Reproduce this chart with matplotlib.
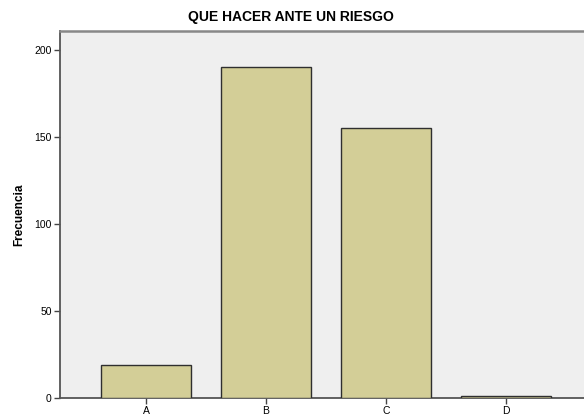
import matplotlib
matplotlib.use("Agg")
import matplotlib.pyplot as plt

categories = ["A", "B", "C", "D"]
frecuencia = [19, 190, 155, 1]
y_ticks = [0, 50, 100, 150, 200]

plt.rcParams["font.family"] = ["Liberation Sans", "DejaVu Sans"]

fig = plt.figure(figsize=(5.84, 4.18), dpi=100)
ax = fig.add_axes([60 / 584, 20 / 418, 533 / 584, 367 / 418])
ax.set_facecolor("#efefef")

x = list(range(len(categories)))
ax.bar(x, frecuencia, width=0.75, color="#d3ce97", edgecolor="#2f2f2f", linewidth=1.0, zorder=3)

ax.set_xlim(-0.717, 3.725)
ax.set_ylim(0, 210.8)
ax.set_xticks(x)
ax.set_xticklabels(categories, fontsize=7.5)
ax.set_yticks(y_ticks)
ax.set_yticklabels([str(t) for t in y_ticks], fontsize=7.5)
ax.tick_params(axis="both", direction="out", length=4.5, width=1, color="#444444", pad=1.5)

for side in ["left", "bottom"]:
    ax.spines[side].set_color("#555555")
    ax.spines[side].set_linewidth(1.3)
ax.spines["top"].set_color("#888888")
ax.spines["top"].set_linewidth(1.8)
ax.spines["right"].set_visible(False)

ax.set_ylabel("Frecuencia", fontsize=8.5, fontweight="bold")
ax.yaxis.set_label_coords(-0.066, 0.5)
fig.text(291 / 584, 1 - 17 / 418, "QUE HACER ANTE UN RIESGO", fontsize=10, fontweight="bold",
         ha="center", va="center")

fig.savefig("out.png", dpi=100)
